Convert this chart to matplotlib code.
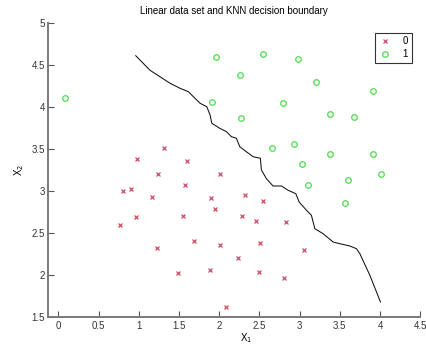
import matplotlib
matplotlib.use('Agg')
import matplotlib.pyplot as plt

plt.rcParams['font.family'] = ['Liberation Sans', 'DejaVu Sans']

# class 0 (red crosses)
x0 = [0.98, 1.32, 1.60, 1.24, 0.81, 0.91, 1.17, 1.57, 1.90, 0.96,
      0.77, 1.55, 1.23, 1.69, 1.49, 1.88, 2.01, 2.32, 2.54, 1.95,
      2.28, 2.46, 2.83, 2.01, 2.51, 3.06, 2.23, 2.49, 2.80, 2.09]
y0 = [3.39, 3.52, 3.36, 3.20, 3.00, 3.03, 2.93, 3.08, 2.92, 2.69,
      2.60, 2.70, 2.33, 2.41, 2.03, 2.06, 3.21, 2.96, 2.89, 2.79,
      2.71, 2.65, 2.63, 2.36, 2.39, 2.30, 2.20, 2.04, 1.97, 1.62]

# class 1 (green circles)
x1 = [0.08, 1.965, 2.55, 2.98, 2.26, 3.20, 3.91, 1.91, 2.79, 2.27,
      3.38, 3.67, 2.66, 2.93, 3.38, 3.91, 3.03, 3.11, 3.60, 4.01, 3.57]
y1 = [4.11, 4.60, 4.63, 4.575, 4.38, 4.30, 4.19, 4.06, 4.05, 3.87,
      3.92, 3.88, 3.51, 3.56, 3.44, 3.44, 3.32, 3.08, 3.13, 3.20, 2.86]

# decision boundary
bx = [0.963, 1.141, 1.264, 1.389, 1.514, 1.617, 1.679, 1.762, 1.846, 1.887,
      1.908, 2.007, 2.090, 2.152, 2.214, 2.256, 2.338, 2.422, 2.512, 2.525,
      2.587, 2.670, 2.774, 2.857, 2.953, 2.994, 3.085, 3.147, 3.189, 3.292,
      3.417, 3.500, 3.624, 3.706, 3.749, 3.873, 4.005]
by = [4.614, 4.440, 4.364, 4.286, 4.226, 4.186, 4.126, 4.048, 4.007, 3.908,
      3.810, 3.750, 3.710, 3.650, 3.631, 3.531, 3.471, 3.412, 3.393, 3.254,
      3.150, 3.063, 3.063, 3.012, 2.971, 2.873, 2.774, 2.714, 2.555, 2.495,
      2.396, 2.376, 2.349, 2.317, 2.257, 2.000, 1.682]

xticks = [0, 0.5, 1, 1.5, 2, 2.5, 3, 3.5, 4, 4.5]
yticks = [1.5, 2, 2.5, 3, 3.5, 4, 4.5, 5]

fig = plt.figure(figsize=(4.26, 3.45), dpi=100)
ax = fig.add_axes([0.1134, 0.0803, 0.8732, 0.8522])

ax.plot(x0, y0, 'x', color='#d04a64', markersize=3.2, markeredgewidth=0.9, label='0')
ax.plot(x1, y1, 'o', color='#4cdc4c', markerfacecolor='none', markersize=4.0,
        markeredgewidth=0.9, label='1')
ax.plot(bx, by, '-', color='#111111', linewidth=0.75)

ax.set_xlim(-0.124, 4.5)
ax.set_ylim(1.5, 5)
ax.set_xticks(xticks)
ax.set_yticks(yticks)
ax.set_xticklabels([f'{t:g}' for t in xticks])
ax.set_yticklabels([f'{t:g}' for t in yticks])

for s in ['top', 'right']:
    ax.spines[s].set_visible(False)
for s in ['left', 'bottom']:
    ax.spines[s].set_color('#7a7a7a')
    ax.spines[s].set_linewidth(1.4)
ax.tick_params(direction='in', length=4, width=0.8, color='#555555',
               labelsize=7, labelcolor='#333333', pad=2.5)

ax.set_title('Linear data set and KNN decision boundary', fontsize=7, pad=7)
ax.set_xlabel('X$_1$', fontsize=7, va='top')
ax.xaxis.set_label_coords(0.532, -0.048)
ax.set_ylabel('X$_2$', fontsize=7, labelpad=4)

leg = ax.legend(loc='upper right', fontsize=7, frameon=True, fancybox=False,
                edgecolor='black', handlelength=1.2, handletextpad=1.2,
                borderpad=0.4, labelspacing=0.3, bbox_to_anchor=(0.99, 0.985))
leg.get_frame().set_linewidth(0.8)

fig.savefig('out.png', dpi=100)
